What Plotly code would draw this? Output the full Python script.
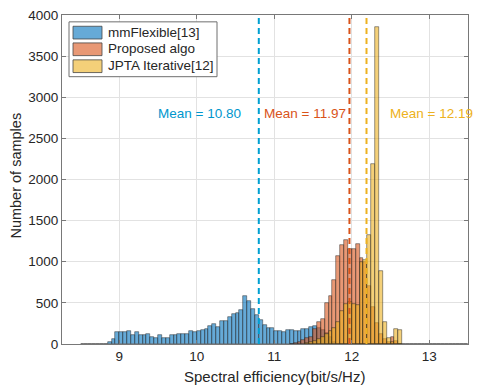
import plotly.graph_objects as go

# ---------------- data ----------------
bin_width = 0.05
blue_start = 8.50
blue_counts = [1, 2, 1, 3, 2, 4, 6, 25, 65, 140, 140, 140, 155, 115, 145, 115, 105, 125, 80, 72,
               105, 72, 72, 105, 105, 127, 127, 127, 160, 145, 155, 175, 183, 213, 240, 204, 274, 274,
               330, 360, 380, 416, 580, 518, 428, 354, 294, 225, 190, 193, 160, 153, 145, 167, 170,
               163, 163, 183, 181, 209, 215, 200, 170, 130, 80, 30, 5,
               0, 0, 0, 0, 0, 0, 0, 0, 0, 0, 0, 0, 0, 0, 0, 0, 0, 0, 0, 0, 0, 0, 0, 0, 0, 0, 0, 0, 0, 0, 0, 0, 0]
orange_start = 11.20
orange_counts = [5, 15, 30, 45, 70, 90, 180, 266, 306, 493, 585, 776, 1070, 1200, 1260, 1160, 1150,
                 1220, 1050, 1000, 700, 450, 250, 120, 60, 30, 80, 40, 5]
yellow_start = 11.40
yellow_counts = [10, 20, 40, 60, 90, 120, 160, 200, 270, 400, 490, 510, 490, 470, 994, 1020, 1330,
                 2190, 3850, 890, 266, 70, 20, 187, 167]

series_names = ["mmFlexible[13]", "Proposed algo", "JPTA Iterative[12]"]
series_means = [10.80, 11.97, 12.19]
mean_labels = ["Mean = 10.80", "Mean = 11.97", "Mean = 12.19"]
x_ticks = [9, 10, 11, 12, 13]
y_ticks = [0, 500, 1000, 1500, 2000, 2500, 3000, 3500, 4000]

# ---------------- styles ----------------
face = ["rgba(0,114,189,0.6)", "rgba(217,83,25,0.6)", "rgba(237,177,32,0.6)"]
swatch = ["rgb(102,170,215)", "rgb(232,152,117)", "rgb(244,208,121)"]
line_col = ["rgb(0,160,210)", "rgb(217,83,25)", "rgb(237,177,32)"]
text_col = ["rgb(0,150,205)", "rgb(217,83,25)", "rgb(237,177,32)"]
FONT = "Liberation Sans, Helvetica, Arial, sans-serif"
TXT = "rgb(38,38,38)"

fig = go.Figure()
for start, counts, i in [(blue_start, blue_counts, 0), (orange_start, orange_counts, 1),
                         (yellow_start, yellow_counts, 2)]:
    xs = [start + (k + 0.5) * bin_width for k in range(len(counts))]
    fig.add_trace(go.Bar(x=xs, y=counts, width=bin_width, name=series_names[i], showlegend=False,
                         marker=dict(color=face[i], line=dict(color="rgba(30,30,30,0.75)", width=0.6))))

# mean lines
for i, m in enumerate(series_means):
    fig.add_shape(type="line", x0=m, x1=m, xref="x", y0=0, y1=1, yref="paper",
                  line=dict(color=line_col[i], width=2, dash="6px,4px"), layer="above")

# mean labels
label_x = [10.04, 11.40, 13.03]
for i, t in enumerate(mean_labels):
    fig.add_annotation(x=label_x[i], y=2800, xref="x", yref="y", text=t, showarrow=False,
                       xanchor="center", yanchor="middle",
                       font=dict(family=FONT, size=13.5, color=text_col[i]))

# manual legend (pixel layout converted to paper coords)
L, T, W, H = 62, 8, 406, 336
def px(x):
    return (x - L) / W
def py(y):
    return 1 - (y - T) / H

fig.add_shape(type="rect", xref="paper", yref="paper", x0=px(69), x1=px(217), y0=py(71), y1=py(15),
              line=dict(color="rgb(110,110,110)", width=1), fillcolor="white", layer="above")
rows = [(19.5, 32.5, 25.7), (36.5, 49.5, 42.7), (53.8, 66.8, 60.0)]
for i, (a, b, c) in enumerate(rows):
    fig.add_shape(type="rect", xref="paper", yref="paper", x0=px(73), x1=px(102), y0=py(b), y1=py(a),
                  line=dict(color="rgb(70,70,70)", width=0.8), fillcolor=swatch[i], layer="above")
    fig.add_annotation(xref="paper", yref="paper", x=px(105.5), y=py(c), text=series_names[i],
                       showarrow=False, xanchor="left", yanchor="middle",
                       font=dict(family=FONT, size=13.5, color=TXT))

# x axis title (positioned as in the reference)
fig.add_annotation(xref="paper", yref="paper", x=px(274), y=py(377), text="Spectral efficiency(bit/s/Hz)",
                   showarrow=False, xanchor="center", yanchor="middle",
                   font=dict(family=FONT, size=15, color=TXT))
# y axis title
fig.add_annotation(xref="paper", yref="paper", x=px(16), y=py(172), text="Number of samples",
                   textangle=-90, showarrow=False, xanchor="center", yanchor="middle",
                   font=dict(family=FONT, size=14.5, color=TXT))

axis_common = dict(showline=True, linecolor="rgb(120,120,120)", linewidth=1, mirror="ticks",
                   ticks="inside", ticklen=4, tickcolor="rgb(120,120,120)", showgrid=True,
                   gridcolor="rgb(226,226,226)", gridwidth=1, zeroline=False,
                   tickfont=dict(family=FONT, size=13.5, color=TXT))

fig.update_layout(
    width=485, height=389, margin=dict(l=L, r=17, t=T, b=45),
    paper_bgcolor="white", plot_bgcolor="white", barmode="overlay", bargap=0,
    showlegend=False,
    xaxis=dict(range=[8.26, 13.5], tickvals=x_ticks, ticktext=[str(v) for v in x_ticks], **axis_common),
    yaxis=dict(range=[0, 4000], tickvals=y_ticks, ticktext=[str(v) for v in y_ticks], **axis_common),
)

fig.write_html("out.html")
